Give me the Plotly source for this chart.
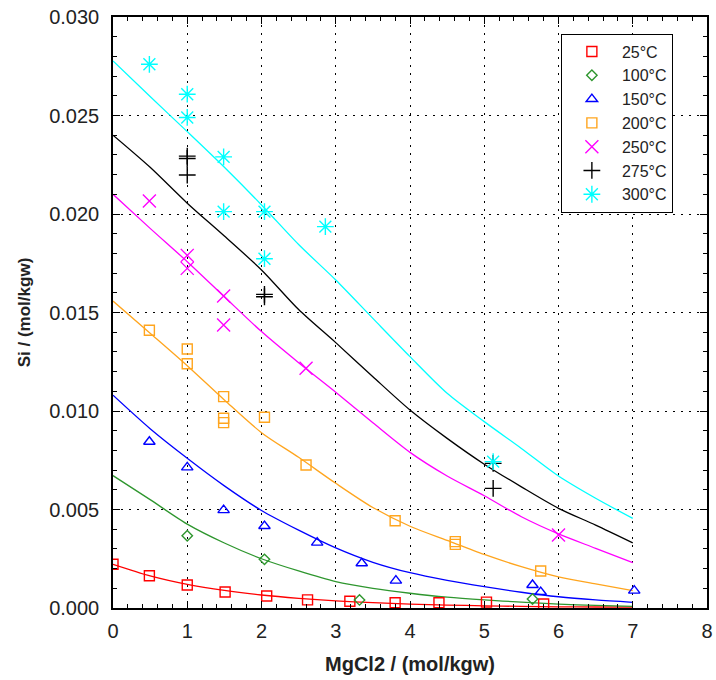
import plotly.graph_objects as go

# ---------------- data ----------------
series_names = ["25°C", "100°C", "150°C", "200°C", "250°C", "275°C", "300°C"]
series_colors = ["#ff0000", "#2e962e", "#0000ff", "#ffa51e", "#ff00ff", "#000000", "#00ffff"]
series_symbols = ["square-open", "diamond-open", "triangle-up-open", "square-open",
                  "x-thin-open", "cross-thin-open", "asterisk-open"]
series_sizes = [10, 8, 10, 10, 13, 12, 14]

# measured points
x_25 = [0.0, 0.49, 1.0, 1.51, 2.07, 2.62, 3.19, 3.80, 4.39, 5.03, 5.80]
y_25 = [0.00222, 0.00164, 0.00117, 0.00081, 0.00061, 0.00041, 0.00034, 0.00027, 0.00027, 0.00030, 0.00020]

x_100 = [1.0, 2.04, 3.32, 5.65]
y_100 = [0.00367, 0.00247, 0.00041, 0.00046]

x_150 = [0.49, 1.0, 1.49, 2.04, 2.75, 3.35, 3.81, 5.65, 5.76, 7.02]
y_150 = [0.00844, 0.00714, 0.00497, 0.00416, 0.00332, 0.00227, 0.00139, 0.00117, 0.00081, 0.00088]

x_200 = [0.49, 1.0, 1.0, 1.49, 1.49, 1.49, 2.04, 2.60, 3.80, 4.61, 4.61, 5.76]
y_200 = [0.01410, 0.01315, 0.01240, 0.01073, 0.00963, 0.00941, 0.00968, 0.00726, 0.00443, 0.00337, 0.00323, 0.00188]

x_250 = [0.49, 1.0, 1.0, 1.49, 1.49, 2.60, 6.00]
y_250 = [0.02066, 0.01790, 0.01724, 0.01584, 0.01437, 0.01217, 0.00371]

x_275 = [1.0, 1.0, 1.0, 2.04, 2.04, 5.12, 5.12]
y_275 = [0.02294, 0.02282, 0.02198, 0.01592, 0.01580, 0.00734, 0.00607]

x_300 = [0.49, 1.0, 1.0, 1.49, 1.49, 2.04, 2.04, 2.86, 5.12]
y_300 = [0.02760, 0.02608, 0.02490, 0.02290, 0.02012, 0.02012, 0.01773, 0.01936, 0.00743]

# fitted curves, read at x = 0, 0.5, ..., 7
curve_x = [0.0, 0.5, 1.0, 1.5, 2.0, 2.5, 3.0, 3.5, 4.0, 4.5, 5.0, 5.5, 6.0, 6.5, 7.0]
curve_25 = [0.00222, 0.00163, 0.00120, 0.00089, 0.00066, 0.00049, 0.00036, 0.00027, 0.00020,
            0.00015, 0.00011, 0.00008, 0.00006, 0.00005, 0.00004]
curve_100 = [0.00672, 0.00550, 0.00426, 0.00330, 0.00250, 0.00188, 0.00134, 0.00100, 0.00075,
             0.00055, 0.00041, 0.00030, 0.00020, 0.00013, 0.00008]
curve_150 = [0.01080, 0.00910, 0.00760, 0.00620, 0.00495, 0.00395, 0.00305, 0.00232, 0.00179,
             0.00140, 0.00108, 0.00080, 0.00057, 0.00041, 0.00029]
curve_200 = [0.01558, 0.01395, 0.01230, 0.01056, 0.00890, 0.00765, 0.00633, 0.00510, 0.00415,
             0.00343, 0.00272, 0.00210, 0.00158, 0.00122, 0.00088]
curve_250 = [0.02100, 0.01927, 0.01758, 0.01580, 0.01403, 0.01245, 0.01095, 0.00940, 0.00790,
             0.00670, 0.00570, 0.00463, 0.00376, 0.00303, 0.00230]
curve_275 = [0.02400, 0.02237, 0.02055, 0.01888, 0.01716, 0.01515, 0.01347, 0.01174, 0.01005,
             0.00861, 0.00730, 0.00615, 0.00506, 0.00421, 0.00331]
curve_300 = [0.02777, 0.02596, 0.02418, 0.02237, 0.02046, 0.01845, 0.01665, 0.01470, 0.01276,
             0.01090, 0.00946, 0.00810, 0.00670, 0.00557, 0.00455]

x_ticks = [0, 1, 2, 3, 4, 5, 6, 7, 8]
y_ticks = [0.000, 0.005, 0.010, 0.015, 0.020, 0.025, 0.030]

point_x = [x_25, x_100, x_150, x_200, x_250, x_275, x_300]
point_y = [y_25, y_100, y_150, y_200, y_250, y_275, y_300]
curves = [curve_25, curve_100, curve_150, curve_200, curve_250, curve_275, curve_300]

# ---------------- figure ----------------
fig = go.Figure()

for name, col, cy in zip(series_names, series_colors, curves):
    fig.add_trace(go.Scatter(x=curve_x, y=cy, mode="lines",
                             line=dict(color=col, width=1.3, shape="spline", smoothing=0.8),
                             showlegend=False, hoverinfo="skip", name=name + " fit"))

for name, col, sym, sz, px, py in zip(series_names, series_colors, series_symbols,
                                      series_sizes, point_x, point_y):
    fig.add_trace(go.Scatter(x=px, y=py, mode="markers", name=name,
                             marker=dict(symbol=sym, size=sz, color=col,
                                         line=dict(color=col, width=1.4))))

font_family = "Liberation Sans, Arial, sans-serif"

axis_common = dict(
    showline=True, linecolor="black", linewidth=1.5, mirror="allticks",
    ticks="inside", ticklen=7, tickcolor="black", tickwidth=1,
    showgrid=True, gridcolor="black", gridwidth=1, griddash="2px,6px",
    zeroline=False, automargin=False,
    tickfont=dict(family=font_family, size=20, color="#222"),
)

fig.update_xaxes(
    range=[0, 8], tickvals=x_ticks, ticktext=[str(v) for v in x_ticks],
    ticklabelstandoff=4,
    minor=dict(dtick=0.2, ticks="inside", ticklen=4, tickcolor="black", showgrid=False),
    title=dict(text="<b>MgCl2 / (mol/kgw)</b>", font=dict(family=font_family, size=20, color="#222"),
               standoff=16),
    **axis_common,
)
fig.update_yaxes(
    range=[0, 0.030], tickvals=y_ticks, tickformat=".3f",
    ticklabelstandoff=8,
    minor=dict(dtick=0.001, ticks="inside", ticklen=4, tickcolor="black", showgrid=False),
    title=dict(text="<b>Si / (mol/kgw)</b>", font=dict(family=font_family, size=17, color="#222"),
               standoff=14),
    **axis_common,
)

fig.update_layout(
    width=716, height=680,
    margin=dict(l=113, r=9, t=17, b=72),
    paper_bgcolor="white", plot_bgcolor="white",
    font=dict(family=font_family, color="#222"),
    legend=dict(x=0.754, y=0.972, xanchor="left", yanchor="top",
                bgcolor="white", bordercolor="black", borderwidth=1,
                font=dict(family=font_family, size=16, color="#222"),
                tracegroupgap=0, itemwidth=50),
)

fig.write_html("out.html", config={"displayModeBar": False},
               post_script="document.body.style.margin='0px';")
